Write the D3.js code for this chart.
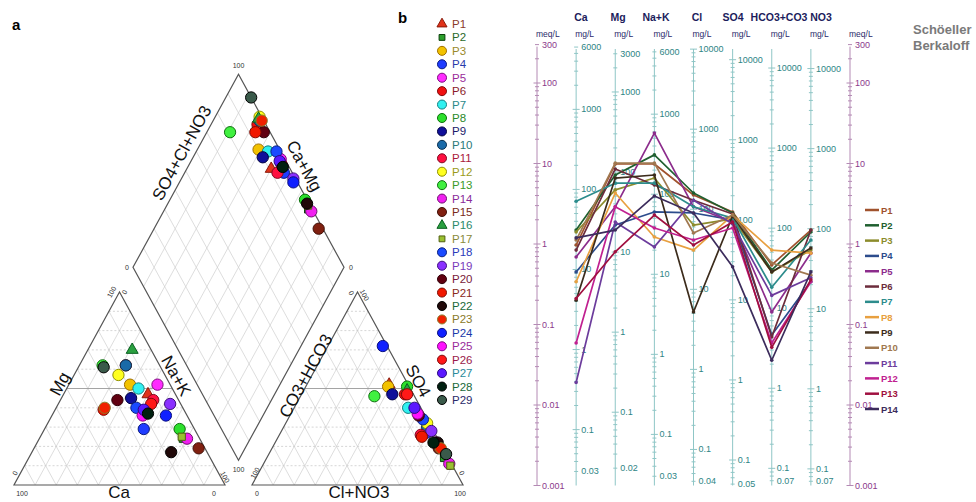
<!DOCTYPE html>
<html>
<head>
<meta charset="utf-8">
<script src="https://cdn.jsdelivr.net/npm/d3@7"></script>
<style>
  body { margin: 0; background: #fff; }
  svg { display: block; }
  text { font-family: Arial, "Liberation Sans", sans-serif; }
</style>
</head>
<body>
<svg width="976" height="502"></svg>
<script>
// ---------- Piper data (percent of meq) ----------
const samples = ['P1','P2','P3','P4','P5','P6','P7','P8','P9','P10','P11','P12','P13','P14','P15',
  'P16','P17','P18','P19','P20','P21','P22','P23','P24','P25','P26','P27','P28','P29']
const shapes = ['triangle','square','circle','circle','circle','circle','circle','circle','circle','circle',
  'circle','circle','circle','circle','circle','triangle','square','circle','circle','circle',
  'circle','circle','circle','circle','circle','circle','circle','circle','circle']
const fills = ['#e0321a','#2ca02c','#f2c200','#1f3cff','#ff2cff','#f01010','#30f0f0','#2ce02c','#10109a','#1a6aa8',
  '#ff1040','#ffff20','#40f040','#f020f0','#802010','#2aa040','#9ac030','#1a4aff','#8a30ff','#600010',
  '#f01800','#200808','#f02000','#1020ff','#ff10ff','#ff1818','#5a18ff','#002010','#3a5a4a']
const outlines = ['#8a1a0a','#0a400a','#a07000','#0a1a80','#800a80','#800a0a','#108080','#0a700a','#000040','#0a3050',
  '#800a20','#909000','#107010','#700a70','#401008','#0a6020','#506010','#0a2080','#401080','#300008',
  '#800a00','#000000','#8a7a2a','#0a1080','#800a80','#800a0a','#2a0a80','#000000','#000000']
const labelColors = ['#8b3a2a','#2a6a2a','#9a8a2a','#2a3aaa','#9a2a9a','#8a1a2a','#2a8a8a','#2a8a2a','#1a1a6a','#2a7a7a',
  '#aa1a3a','#9a9a1a','#3a9a2a','#8a2a9a','#7a2a1a','#2a8a6a','#8a8a3a','#2a3aba','#7a3aba','#7a1a3a',
  '#8a2a1a','#1a6a3a','#8a7a2a','#1a3aaa','#9a2a9a','#9a1a4a','#2a8a9a','#1a6a3a','#2a2a6a']
const cationCa = [13, 8, 19, 24, 6, 16, 16, 7, 22, 16, 12, 22, 27, 6, 3, 9, 8, 22, 5, 29, 38, 17, 37, 10, 21, 14, 19, 18, 27]
const cationMg = [47, 24, 52, 29, 52, 62, 50, 29, 45, 62, 44, 57, 62, 24, 19, 70, 25, 40, 42, 44, 39, 17, 40, 36, 36, 42, 39, 37, 61]
const anionSO4 = [52, 14, 51, 27, 22, 47, 40, 51, 47, 30, 26, 32, 46, 11, 19, 49, 10, 34, 28, 36, 25, 22, 19, 72, 37, 47, 40, 22, 16]
const anionCl = [39, 84, 39, 69, 76, 49, 54, 48, 43, 68, 67, 67, 35, 88, 79, 49, 89, 64, 71, 61, 68, 77, 80, 26, 60, 50, 57, 75, 84]

// ---------- Schoeller data (meq/L) ----------
const ions = ['Ca', 'Mg', 'Na+K', 'Cl', 'SO4', 'HCO3+CO3', 'NO3']
const eqWeight = [20.04, 12.15, 23.0, 35.45, 48.03, 61.02, 62.0]
const mgTickLabels = [
  [6000, 1000, 100, 10, 1, 0.1, 0.03],
  [3000, 1000, 100, 10, 1, 0.1, 0.02],
  [6000, 1000, 100, 10, 1, 0.1, 0.03],
  [10000, 1000, 100, 10, 1, 0.1, 0.04],
  [10000, 1000, 100, 10, 1, 0.1, 0.05],
  [10000, 1000, 100, 10, 1, 0.1, 0.07],
  [10000, 1000, 100, 10, 1, 0.1, 0.07]
]
const meqTickLabels = [300, 100, 10, 1, 0.1, 0.01, 0.001]
const lineNames = ['P1','P2','P3','P4','P5','P6','P7','P8','P9','P10','P11','P12','P13','P14']
const lineColors = ['#a0522d','#1f5f2f','#8c8c2c','#2c4c8c','#8c2c8c','#6c2c3c','#2c8c8c',
  '#e8a040','#3c2c1c','#a07850','#6c3c9c','#c02090','#a01040','#3c2c5c']
const caMeq = [0.97, 1.49, 1.41, 0.45, 0.69, 0.84, 3.4, 0.34, 0.20, 1.12, 0.019, 0.059, 0.21, 1.19]
const mgMeq = [9.86, 7.2, 4.7, 1.72, 2.9, 8.55, 5.7, 4.3, 6.6, 10.1, 1.88, 2.9, 0.80, 1.49]
const naMeq = [9.86, 12.8, 6.6, 2.5, 23.9, 5.4, 5.7, 1.22, 7.2, 10.1, 0.92, 1.58, 2.29, 3.95]
const clMeq = [4.06, 4.3, 1.72, 2.43, 2.9, 3.5, 2.9, 0.84, 0.143, 1.37, 3.5, 1.12, 0.97, 2.43]
const so4Meq = [2.5, 2.43, 2.05, 1.99, 1.88, 2.36, 2.1, 2.29, 2.23, 2.29, 1.77, 1.58, 1.88, 0.52]
const hco3Meq = [0.55, 0.475, 0.45, 0.074, 0.143, 0.070, 0.29, 0.84, 0.45, 0.58, 0.23, 0.059, 0.052, 0.036]
const no3Meq = [1.49, 1.41, 0.84, 0.34, 0.77, 1.49, 1.12, 0.77, 0.89, 0.41, 0.38, 0.34, 0.36, 0.45]

const svg = d3.select('svg')

// ================= Piper =================
const side = 211
const triH = 193
const base = 485
const gap = 27
const ang = Math.atan2(triH, side / 2) * 180 / Math.PI

const xCat = d3.scaleLinear().domain([0, 1]).range([14, 14 + side])
const xAn = d3.scaleLinear().domain([0, 1]).range([14 + side + gap, 14 + 2 * side + gap])
const yTri = d3.scaleLinear().domain([0, 1]).range([base, base - triH])
const bx = 14 + side + gap / 2
const by = base - (gap / 2) * triH / (side / 2)
const xDia = d3.scaleLinear().domain([-1, 1]).range([bx - side / 2, bx + side / 2])
const yDia = d3.scaleLinear().domain([0, 2]).range([by, by - 2 * triH])

const piper = svg.append('g')
const seg = (g, a, b, color, w, dash) => g.append('line')
  .attr('x1', a[0]).attr('y1', a[1]).attr('x2', b[0]).attr('y2', b[1])
  .attr('stroke', color).attr('stroke-width', w).attr('stroke-dasharray', dash || null)

const drawTriangle = (xs) => {
  const g = piper.append('g')
  const p = (u, v) => [xs(u), yTri(v)]
  for (let i = 1; i < 10; i++) {
    const k = i / 10
    if (i === 5) seg(g, p(k / 2, k), p(1 - k / 2, k), '#9a9a9a', 0.9)
    else seg(g, p(k / 2, k), p(1 - k / 2, k), '#c4c4c4', 0.7, '2,2')
    seg(g, p(k, 0), p(k + (1 - k) / 2, 1 - k), '#cfcfcf', 0.7)
    seg(g, p(1 - k, 0), p((1 - k) / 2, 1 - k), '#cfcfcf', 0.7)
  }
  g.append('path')
    .attr('d', d3.line()([p(0, 0), p(1, 0), p(0.5, 1)]) + 'Z')
    .attr('fill', 'none').attr('stroke', '#555').attr('stroke-width', 1.2)
}
drawTriangle(xCat)
drawTriangle(xAn)

// diamond
const dg = piper.append('g')
const dp = (m, c) => [xDia(c - m), yDia(c + m)]
for (let i = 1; i < 10; i++) {
  const k = i / 10
  seg(dg, dp(k, 0), dp(k, 1), '#cfcfcf', 0.7)
  seg(dg, dp(0, k), dp(1, k), '#cfcfcf', 0.7)
}
dg.append('path')
  .attr('d', d3.line()([dp(0, 0), dp(1, 0), dp(1, 1), dp(0, 1)]) + 'Z')
  .attr('fill', 'none').attr('stroke', '#555').attr('stroke-width', 1.2)

// small corner labels
const small = (x, y, t, rot) => piper.append('text')
  .attr('transform', `translate(${x},${y}) rotate(${rot || 0})`)
  .attr('text-anchor', 'middle').attr('dominant-baseline', 'central')
  .attr('font-size', 7).attr('fill', '#333').text(t)
small(bx, yDia(2) - 9, '100')
small(xDia(-1) - 6, yDia(1), '0')
small(xDia(1) + 7, yDia(1), '0')
small(bx, by + 9, '100')
small(xCat(0.5) - 8, yTri(1), '100', -ang)
small(xCat(0.5) + 5, yTri(1), '0', -ang)
small(xCat(0) + 1, base - 12, '0', -ang)
small(xCat(0) + 8, base + 8, '100')
small(xCat(1) - 11, base + 8, '0')
small(xCat(1), base - 8, '100', ang)
small(xAn(0) + 3, base - 12, '100', -ang)
small(xAn(0) + 5, base + 8, '0')
small(xAn(0.5) - 6, yTri(1) + 1, '0', ang)
small(xAn(0.5) + 7, yTri(1) + 3, '100', ang)
small(xAn(1) - 1, base - 12, '0', ang)
small(xAn(1) - 3, base + 8, '100')

// axis titles
const title = (x, y, t, rot) => piper.append('text')
  .attr('transform', `translate(${x},${y}) rotate(${rot || 0})`)
  .attr('text-anchor', 'middle').attr('dominant-baseline', 'central')
  .attr('font-size', 17).attr('fill', '#111').text(t)
title(60, 384, 'Mg', -ang)
title(119, 492, 'Ca')
title(176, 376, 'Na+K', ang)
title(306, 376, 'CO3+HCO3', -ang)
title(418, 381, 'SO4', ang)
title(359, 492, 'Cl+NO3')
title(182, 153, 'SO4+Cl+NO3', -ang)
title(304, 166, 'Ca+Mg', ang)

// points
const symbolFor = (s) => s === 'triangle' ? d3.symbolTriangle : s === 'square' ? d3.symbolSquare : d3.symbolCircle
const sizeFor = (s, big) => {
  if (s === 'triangle') return big ? 62 : 44
  if (s === 'square') return big ? 52 : 34
  return big ? 100 : 64
}
const pts = piper.append('g')
samples.forEach((name, i) => {
  const ca = cationCa[i] / 100, mg = cationMg[i] / 100, na = 1 - ca - mg
  const so4 = anionSO4[i] / 100, cl = anionCl[i] / 100
  const positions = [
    [xCat(na + mg / 2), yTri(mg)],
    [xAn(cl + so4 / 2), yTri(so4)],
    dp(ca + mg, so4 + cl)
  ]
  positions.forEach(([x, y]) => {
    pts.append('path')
      .attr('d', d3.symbol().type(symbolFor(shapes[i])).size(sizeFor(shapes[i], true))())
      .attr('transform', `translate(${x},${y})`)
      .attr('fill', fills[i]).attr('stroke', outlines[i]).attr('stroke-width', 1)
  })
})

// legend
const legY = d3.scalePoint().domain(samples).range([24, 400])
const leg = svg.append('g')
samples.forEach((name, i) => {
  leg.append('path')
    .attr('d', d3.symbol().type(symbolFor(shapes[i])).size(sizeFor(shapes[i], false))())
    .attr('transform', `translate(442,${legY(name)})`)
    .attr('fill', fills[i]).attr('stroke', outlines[i]).attr('stroke-width', 1)
  leg.append('text').attr('x', 452).attr('y', legY(name)).attr('dominant-baseline', 'central')
    .attr('font-size', 11.5).attr('fill', labelColors[i]).text(name)
})

svg.append('text').attr('x', 12).attr('y', 30).attr('font-family', 'DejaVu Serif, serif')
  .attr('font-weight', 'bold').attr('font-size', 15).text('a')
svg.append('text').attr('x', 398).attr('y', 23).attr('font-family', 'DejaVu Serif, serif')
  .attr('font-weight', 'bold').attr('font-size', 15).text('b')

// ================= Schoeller =================
const axisKeys = ['meqL', ...ions, 'meqR']
const xS = d3.scalePoint().domain(axisKeys).range([537, 850])
const yMeq = d3.scaleLog().domain([0.001, 300]).range([485.5, 44.6])
const sch = svg.append('g')

const fmt = (v) => String(+v.toPrecision(3))
const drawLogAxis = (x, scale, labels, lineColor, textColor) => {
  const g = sch.append('g')
  const [y0, y1] = scale.range()
  g.append('line').attr('x1', x).attr('x2', x).attr('y1', y0).attr('y2', y1 + 2)
    .attr('stroke', lineColor).attr('stroke-width', 1)
  scale.ticks().forEach((t) => {
    const major = Math.abs(Math.log10(t) - Math.round(Math.log10(t))) < 1e-9
    const w = major ? 3.5 : 2
    g.append('line').attr('x1', x - w).attr('x2', x + w).attr('y1', scale(t)).attr('y2', scale(t))
      .attr('stroke', lineColor).attr('stroke-width', 1)
  })
  labels.forEach((t) => {
    g.append('text').attr('x', x + 5).attr('y', scale(t)).attr('dominant-baseline', 'central')
      .attr('font-size', 9).attr('fill', textColor).text(fmt(t))
  })
}

drawLogAxis(xS('meqL'), yMeq, meqTickLabels, '#b48ab4', '#8b3a8b')
drawLogAxis(xS('meqR'), yMeq, meqTickLabels, '#b48ab4', '#8b3a8b')
ions.forEach((ion, j) => {
  const w = eqWeight[j]
  const yMg = d3.scaleLog().domain([0.001 * w, 300 * w]).range([485.5, 47])
  drawLogAxis(xS(ion), yMg, mgTickLabels[j], '#8fc6c6', '#2e8585')
})

// headers
const headerX = { 'Ca': 581, 'Mg': 618, 'Na+K': 656, 'Cl': 697, 'SO4': 733, 'HCO3+CO3': 779, 'NO3': 821 }
ions.forEach((ion) => {
  sch.append('text').attr('x', headerX[ion]).attr('y', 21).attr('text-anchor', 'middle')
    .attr('font-size', 10.5).attr('font-weight', 'bold').attr('fill', '#1c1c5c').text(ion)
})
axisKeys.forEach((k) => {
  sch.append('text').attr('x', xS(k) - 1).attr('y', 37)
    .attr('font-size', 8.5).attr('fill', '#2a2a6a')
    .text(k.startsWith('meq') ? 'meq/L' : 'mg/L')
})

sch.append('text').attr('x', 913).attr('y', 34).attr('font-size', 13).attr('font-weight', 'bold')
  .attr('fill', '#7a7a7a').text('Schöeller')
sch.append('text').attr('x', 913).attr('y', 50).attr('font-size', 13).attr('font-weight', 'bold')
  .attr('fill', '#7a7a7a').text('Berkaloff')

// lines
const seriesArrays = [caMeq, mgMeq, naMeq, clMeq, so4Meq, hco3Meq, no3Meq]
const lineGen = d3.line().x((d) => xS(d.ion)).y((d) => yMeq(d.v))
const linesG = sch.append('g')
lineNames.forEach((name, i) => {
  const pts2 = ions.map((ion, j) => ({ ion, v: seriesArrays[j][i] }))
  linesG.append('path').attr('d', lineGen(pts2)).attr('fill', 'none')
    .attr('stroke', lineColors[i]).attr('stroke-width', 1.7).attr('stroke-linejoin', 'round')
  pts2.forEach((d) => {
    linesG.append('circle').attr('cx', xS(d.ion)).attr('cy', yMeq(d.v)).attr('r', 1.8)
      .attr('fill', lineColors[i])
  })
})

// Schoeller legend
const legS = d3.scalePoint().domain(lineNames).range([210, 409])
lineNames.forEach((name, i) => {
  sch.append('line').attr('x1', 865).attr('x2', 879).attr('y1', legS(name)).attr('y2', legS(name))
    .attr('stroke', lineColors[i]).attr('stroke-width', 2.5)
  sch.append('text').attr('x', 881).attr('y', legS(name)).attr('dominant-baseline', 'central')
    .attr('font-size', 9.5).attr('font-weight', 'bold').attr('fill', lineColors[i]).text(name)
})
</script>
</body>
</html>
